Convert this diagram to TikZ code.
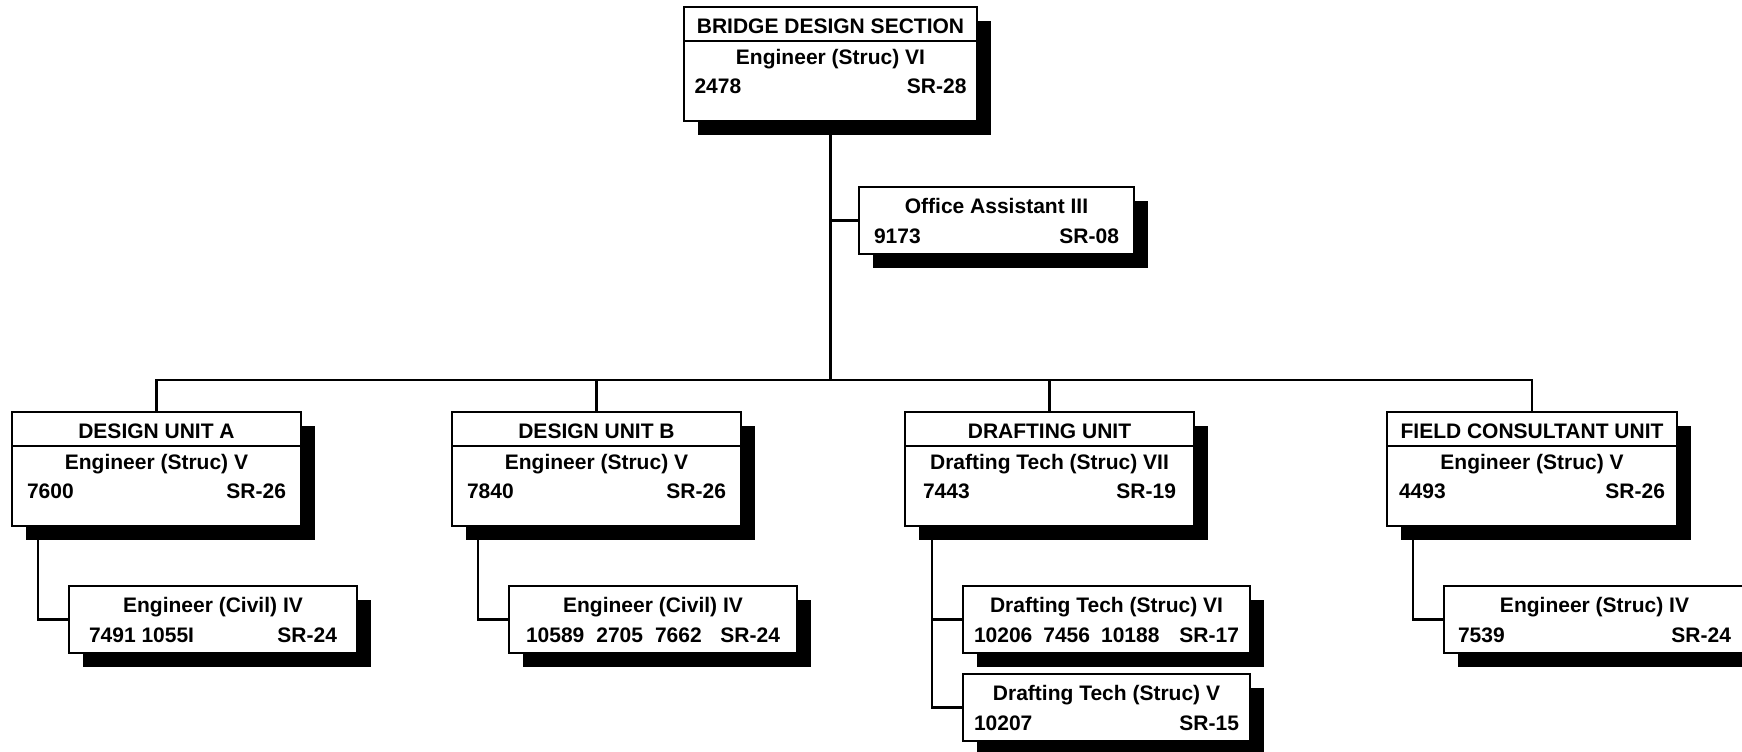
\documentclass[tikz,border=0pt]{standalone}
\usepackage{fontspec}
\setmainfont{Liberation Sans}
\usetikzlibrary{shadows,backgrounds}
\begin{document}
\begin{tikzpicture}[x=0.5pt, y=-0.5pt,
        line width=1pt,
        font=\fontsize{10.5}{12}\selectfont\bfseries,
        box/.style={draw, fill=white, line width=1pt, inner sep=0pt, anchor=north west,
            drop shadow={shadow xshift=7pt, shadow yshift=-7pt, fill=black, opacity=1}},
        txt/.style={inner sep=0pt},
        conn/.style={draw, line width=1.1pt}]
    % Bildbereich
    \useasboundingbox (0,0) rectangle (1742,751);
    % Leitung und Einheiten
    \foreach \nm/\x/\y/\w/\ttl/\role/\num/\gr/\m in {
        bds/683/6/293/BRIDGE DESIGN SECTION/Engineer (Struc) VI/2478/SR-28/10.5,
        ua/11/411/289/DESIGN UNIT A/Engineer (Struc) V/7600/SR-26/15,
        ub/451/411/289/DESIGN UNIT B/Engineer (Struc) V/7840/SR-26/15,
        ud/904/411/289/DRAFTING UNIT/Drafting Tech (Struc) VII/7443/SR-19/18,
        uf/1386/411/290/FIELD CONSULTANT UNIT/Engineer (Struc) V/4493/SR-26/12}
    {
        \node[box, minimum width=\w*0.5pt, minimum height=57pt] (\nm) at (\x,\y) {};
        \draw ([shift={(0,34.5)}]\nm.north west) -- ([shift={(0,34.5)}]\nm.north east);
        \node[txt, anchor=base] (\nm-t) at ([shift={(0,27)}]\nm.north) {\ttl};
        \node[txt, anchor=base] (\nm-r) at ([shift={(0,58.5)}]\nm.north) {\role};
        \node[txt, anchor=base west] (\nm-n) at ([shift={(\m,87.5)}]\nm.north west) {\num};
        \node[txt, anchor=base east] (\nm-g) at ([shift={(-\m,87.5)}]\nm.north east) {\gr};
    }
    % Stellen
    \foreach \nm/\x/\y/\w/\role/\num/\gr/\m in {
        oa/858/186/275/Office Assistant III/9173/SR-08/15,
        ca/68/585/288/Engineer (Civil) IV/7491 1055I/SR-24/20,
        cb/508/585/288/Engineer (Civil) IV/10589\hspace{6pt}2705\hspace{6pt}7662/SR-24/17,
        cd1/962/585/287/Drafting Tech (Struc) VI/10206\hspace{5.5pt}7456\hspace{5.5pt}10188/SR-17/11,
        cd2/962/673/287/Drafting Tech (Struc) V/10207/SR-15/11,
        cf/1443/585/301/Engineer (Struc) IV/7539/SR-24/14}
    {
        \node[box, minimum width=\w*0.5pt, minimum height=33.5pt] (\nm) at (\x,\y) {};
        \node[txt, anchor=base] (\nm-r) at ([shift={(0,27.5)}]\nm.north) {\role};
        \node[txt, anchor=base west] (\nm-n) at ([shift={(\m,57)}]\nm.north west) {\num};
        \node[txt, anchor=base east] (\nm-g) at ([shift={(-\m,57)}]\nm.north east) {\gr};
    }
    % Verbindungslinien
    \begin{pgfonlayer}{background}
        \coordinate (bus) at (0,380);
        \path[conn] (ua.north) |- (bus -| uf.north) -- (uf.north);
        \path[conn] (bds.south) -- (bds.south |- bus);
        \foreach \nm in {ub,ud} \path[conn] (\nm.north) -- (\nm.north |- bus);
        \path[conn] (bds.south |- oa.west) -- (oa.west);
        \foreach \u/\c in {ua/ca,ub/cb,uf/cf} \path[conn] ([xshift=13.5pt]\u.south west) |- (\c.west);
        \path[conn] ([xshift=14pt]ud.south west) |- (cd2.west);
        \path[conn] ([xshift=14pt]ud.south west) |- (cd1.west);
    \end{pgfonlayer}
\end{tikzpicture}
\end{document}
